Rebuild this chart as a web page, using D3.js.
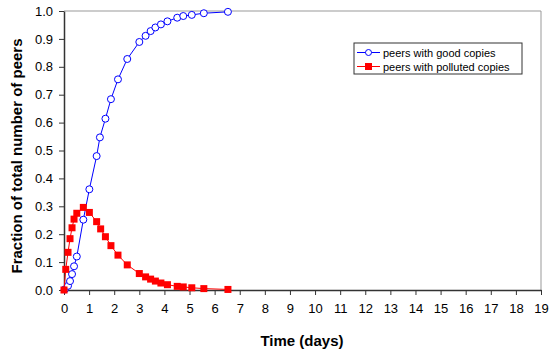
<!DOCTYPE html>
<html><head><meta charset="utf-8">
<script src="https://cdn.jsdelivr.net/npm/d3@7"></script>
<style>body{margin:0;background:#fff;}svg{display:block;font-family:"Liberation Sans",Arial,sans-serif;}</style>
</head><body>
<svg id="c" width="551" height="351"></svg>
<script>
const goodDays = [0.03,0.16,0.24,0.32,0.40,0.51,0.77,1.01,1.30,1.43,1.65,1.87,2.15,2.52,3.0,3.25,3.45,3.64,3.86,4.12,4.51,4.75,5.09,5.57,6.53];
const goodValues = [0.002,0.015,0.032,0.057,0.085,0.120,0.252,0.361,0.480,0.547,0.614,0.684,0.755,0.828,0.889,0.911,0.928,0.941,0.952,0.963,0.976,0.982,0.986,0.992,0.997];
const pollutedDays = [0,0.07,0.16,0.24,0.32,0.40,0.51,0.77,1.01,1.30,1.46,1.65,1.87,2.15,2.52,3.0,3.25,3.45,3.64,3.86,4.12,4.51,4.75,5.09,5.57,6.53];
const pollutedValues = [0,0.074,0.135,0.184,0.223,0.254,0.275,0.296,0.278,0.245,0.219,0.191,0.159,0.125,0.090,0.059,0.047,0.039,0.032,0.025,0.019,0.013,0.011,0.008,0.005,0.002];
const xTicks = d3.range(0,20);
const yTicks = [0,0.1,0.2,0.3,0.4,0.5,0.6,0.7,0.8,0.9,1.0];
const seriesNames = ["peers with good copies","peers with polluted copies"];

const svg = d3.select("#c");
const L=64,R=541,T=11,B=290;
const x = d3.scaleLinear().domain([0,19]).range([L,R]);
const y = d3.scaleLinear().domain([0,1]).range([B,T]);

// frame
svg.append("line").attr("x1",L).attr("x2",R).attr("y1",T).attr("y2",T).attr("stroke","#999").attr("stroke-width",1);
svg.append("line").attr("x1",R).attr("x2",R).attr("y1",T).attr("y2",B).attr("stroke","#999").attr("stroke-width",1);

const xa = svg.append("g").attr("transform",`translate(0,${B})`)
  .call(d3.axisBottom(x).tickValues(xTicks).tickSize(5).tickSizeOuter(0).tickPadding(9).tickFormat(d3.format("d")));
const ya = svg.append("g").attr("transform",`translate(${L},0)`)
  .call(d3.axisLeft(y).tickValues(yTicks).tickSize(5).tickSizeOuter(0).tickPadding(6).tickFormat(d3.format(".1f")));
[xa,ya].forEach(a=>{
  a.selectAll("path").attr("stroke","#333").attr("stroke-width",1.5);
  a.selectAll("line").attr("stroke","#333");
  a.selectAll("text").attr("font-size",13).attr("fill","#000").attr("font-family","Liberation Sans, Arial, sans-serif");
});

const good = goodDays.map((d,i)=>[d,goodValues[i]]);
const pol = pollutedDays.map((d,i)=>[d,pollutedValues[i]]);
const line = d3.line().x(d=>x(d[0])).y(d=>y(d[1]));

svg.append("path").datum(good).attr("d",line).attr("fill","none").attr("stroke","#0000ff").attr("stroke-width",1);
svg.append("g").selectAll("circle").data(good).join("circle")
  .attr("cx",d=>x(d[0])).attr("cy",d=>y(d[1])).attr("r",3.5)
  .attr("fill","#fff").attr("stroke","#0000ff").attr("stroke-width",1);

svg.append("path").datum(pol).attr("d",line).attr("fill","none").attr("stroke","#ff0000").attr("stroke-width",1);
svg.append("g").selectAll("rect").data(pol).join("rect")
  .attr("x",d=>x(d[0])-3.5).attr("y",d=>y(d[1])-3.5).attr("width",7).attr("height",7)
  .attr("fill","#ff0000");

// legend
const lg = svg.append("g");
lg.append("rect").attr("x",354).attr("y",43).attr("width",168).attr("height",31).attr("fill","#fff").attr("stroke","#333").attr("stroke-width",1);
const colors=["#0000ff","#ff0000"];
seriesNames.forEach((n,i)=>{
  const yy = 52.5+i*14;
  lg.append("line").attr("x1",357).attr("x2",380).attr("y1",yy).attr("y2",yy).attr("stroke",colors[i]).attr("stroke-width",1);
  if(i===0) lg.append("circle").attr("cx",368.5).attr("cy",yy).attr("r",3).attr("fill","#fff").attr("stroke",colors[i]);
  else lg.append("rect").attr("x",365).attr("y",yy-3.5).attr("width",7).attr("height",7).attr("fill",colors[i]);
  lg.append("text").attr("x",383).attr("y",yy+4).attr("font-size",11).text(n);
});

// titles
svg.append("text").attr("x",302).attr("y",346).attr("text-anchor","middle").attr("font-size",15).attr("font-weight","bold").text("Time (days)");
svg.append("text").attr("transform","translate(22,156) rotate(-90)").attr("text-anchor","middle").attr("font-size",15).attr("font-weight","bold").text("Fraction of total number of peers");
</script>
</body></html>
